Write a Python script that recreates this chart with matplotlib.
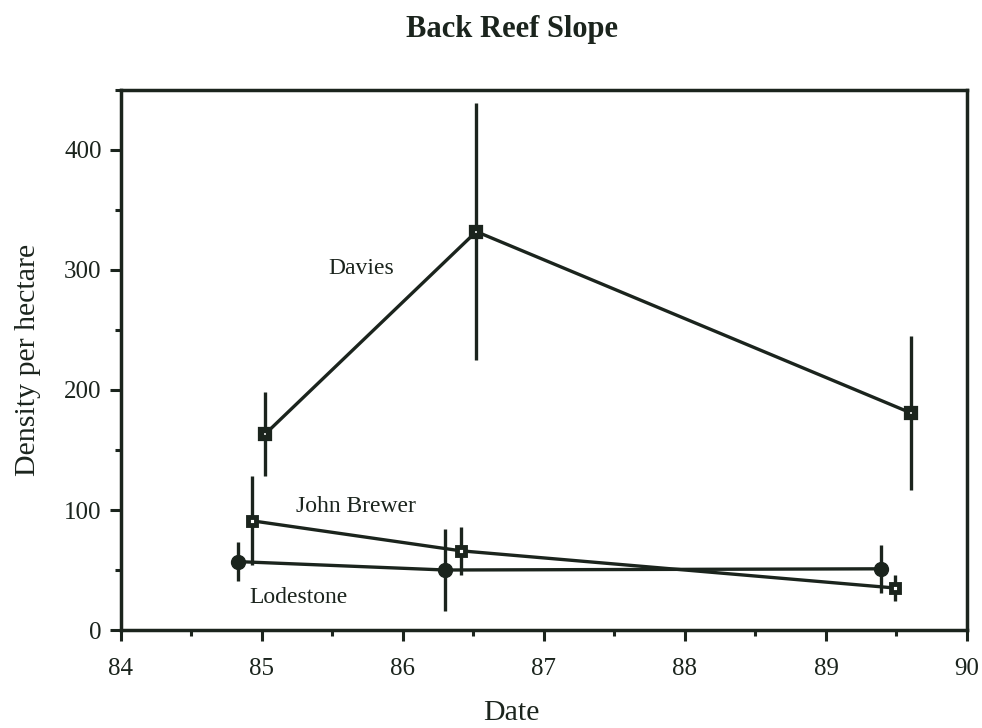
import matplotlib
matplotlib.use("Agg")
import matplotlib.pyplot as plt
from matplotlib.ticker import MultipleLocator

# Survey dates (year, decimal) and density per hectare with error half-widths
davies_x = [85.02, 86.52, 89.60]
davies_y = [163, 332, 181]
davies_err = [35, 107, 64]

brewer_x = [84.93, 86.41, 89.49]
brewer_y = [91, 66, 35]
brewer_err = [37, 20, 11]

lode_x = [84.83, 86.30, 89.39]
lode_y = [57, 50, 51]
lode_err = [16, 34, 20]

site_labels = ["Davies", "John Brewer", "Lodestone"]
label_pos = [(85.47, 301), (85.24, 103), (84.91, 27.5)]

ink = "#1b241d"
plt.rcParams["font.family"] = ["Liberation Serif", "DejaVu Serif"]

fig = plt.figure(figsize=(9.82, 7.28), dpi=100)
ax = fig.add_axes([0.1232, 0.1346, 0.8615, 0.7418])

lw = 2.4
ax.errorbar(davies_x, davies_y, yerr=davies_err, color=ink, lw=lw, elinewidth=lw,
            capsize=0, marker="s", ms=5.5, mfc="white", mec=ink, mew=4.5, zorder=3)
ax.errorbar(brewer_x, brewer_y, yerr=brewer_err, color=ink, lw=lw, elinewidth=lw,
            capsize=0, marker="s", ms=6, mfc="white", mec=ink, mew=3.5, zorder=3)
ax.errorbar(lode_x, lode_y, yerr=lode_err, color=ink, lw=lw, elinewidth=lw,
            capsize=0, marker="o", ms=10, mfc=ink, mec=ink, zorder=3)

for name, (lx, ly) in zip(site_labels, label_pos):
    ax.text(lx, ly, name, fontsize=17, color=ink, ha="left", va="center")

ax.set_xlim(84, 90)
ax.set_ylim(0, 450)
ax.xaxis.set_major_locator(MultipleLocator(1))
ax.xaxis.set_minor_locator(MultipleLocator(0.5))
ax.yaxis.set_major_locator(MultipleLocator(100))
ax.yaxis.set_minor_locator(MultipleLocator(50))

for s in ax.spines.values():
    s.set_linewidth(2.5)
    s.set_color(ink)

ax.tick_params(which="major", direction="out", length=8, width=2.2, colors=ink,
               labelsize=18)
ax.tick_params(axis="x", which="major", pad=12)
ax.tick_params(axis="y", which="major", pad=6)
ax.tick_params(which="minor", direction="out", length=4, width=2.2, colors=ink)

ax.set_xlabel("Date", fontsize=21.5, color=ink)
ax.xaxis.set_label_coords((511 - 121) / 846, -(700 - 630) / 540)
ax.set_ylabel("Density per hectare", fontsize=21.5, color=ink)
ax.yaxis.set_label_coords(-(121 - 41) / 846, (630 - 360) / 540)
fig.text(512 / 982, 1 - 30 / 728, "Back Reef Slope", fontsize=22, fontweight="bold",
         color=ink, ha="center", va="center")

fig.savefig("out.png", dpi=100)
